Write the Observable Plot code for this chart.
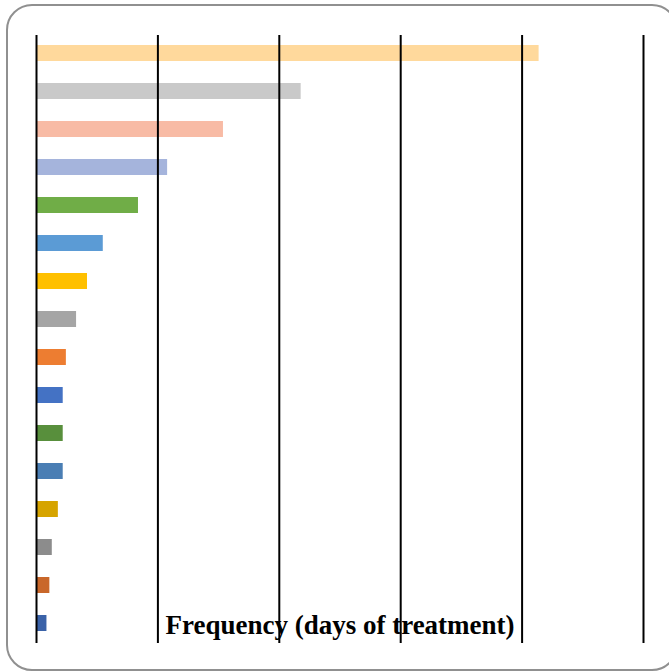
<!DOCTYPE html>
<html>
<head>
<meta charset="utf-8">
<script src="https://cdn.jsdelivr.net/npm/d3@7"></script>
<script src="https://cdn.jsdelivr.net/npm/@observablehq/plot@0.6"></script>
<style>
  html, body { margin: 0; padding: 0; background: #fff; }
  #wrap { position: relative; width: 669px; height: 672px; overflow: hidden; }
  #frame { position: absolute; left: 6px; top: 4px; width: 668px; height: 663px;
           border: 2px solid #909090; border-radius: 26px; pointer-events: none; }
  #chart { position: absolute; left: 0; top: 0; }
</style>
</head>
<body>
<div id="wrap"><div id="chart"></div><div id="frame"></div></div>
<script>
const categories = ["C1","C2","C3","C4","C5","C6","C7","C8","C9","C10","C11","C12","C13","C14","C15","C16"];
const values = [207, 109, 77, 54, 42, 27.5, 21, 16.5, 12.3, 11, 11, 11, 9, 6.5, 5.5, 4.3];
const colors = ["#FFD99C","#C9C9C9","#F8BBA5","#A5B4DC","#70AD47","#5B9BD5","#FFC000","#A5A5A5",
                "#ED7D31","#4472C4","#588F3C","#4A7EB4","#D6A400","#8C8C8C","#C9672A","#3A62A8"];
const gridTicks = [0, 50, 100, 150, 200, 250];
const axisTitle = "Frequency (days of treatment)";

const data = categories.map((c, i) => ({category: c, value: values[i], color: colors[i]}));

const chart = Plot.plot({
  width: 669,
  height: 672,
  marginLeft: 36,
  marginRight: 26,
  marginTop: 35,
  marginBottom: 29,
  x: {domain: [0, 250], axis: null},
  y: {domain: categories, axis: null, range: [32, 643], paddingInner: 0.58, paddingOuter: 0.29},
  marks: [
    Plot.barX(data, {y: "category", x: "value", fill: "color"}),
    Plot.text([axisTitle], {x: () => 125, frameAnchor: "bottom", dy: -10, text: d => d,
      fontFamily: "Liberation Serif, Times New Roman, serif", fontWeight: "bold", fontSize: 27, fill: "#000", textAnchor: "middle"}),
    Plot.ruleX(gridTicks, {stroke: "#000", strokeWidth: 2})
  ]
});
document.getElementById("chart").appendChild(chart);
</script>
</body>
</html>
